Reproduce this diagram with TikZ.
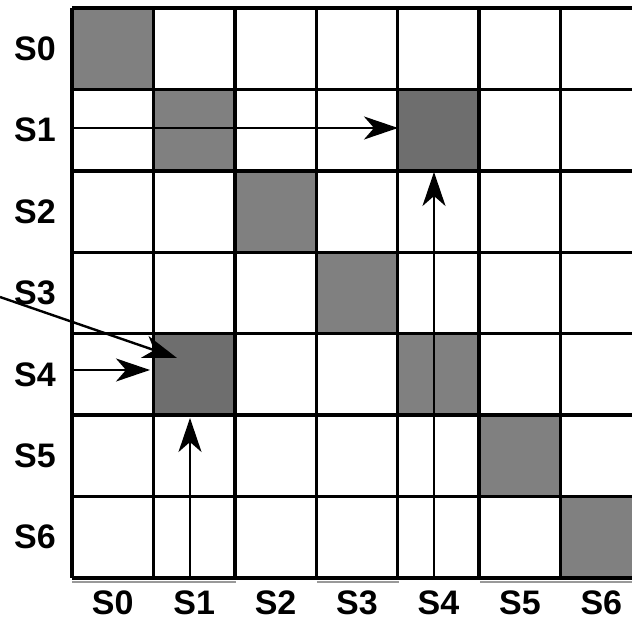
\documentclass[tikz,border=0pt]{standalone}
\usepackage{fontspec}
\setmainfont{Liberation Sans}
\usetikzlibrary{arrows.meta}
\tikzset{
  gridline/.style   = {line width=1.7pt},
  diagcell/.style   = {fill=black!50},
  hitcell/.style    = {fill=black!57},
  edgeshade/.style  = {line width=0.8pt, black!40},
  move/.style       = {line width=1.2pt, -{Stealth[length=17pt,width=11.5pt,inset=5pt]}},
  statelabel/.style = {font=\fontsize{17}{20}\selectfont\bfseries, inner sep=0.5pt},
}

\begin{document}
\begin{tikzpicture}[x=0.5pt,y=-0.5pt]
  \useasboundingbox (0,0) rectangle (632,619);
  \def\cs{81.43}

  % ---- shaded cells ------------------------------------------------------
  \foreach \i in {0,...,6}
    \fill[diagcell] ({72+\i*\cs},{8+\i*\cs}) rectangle ++(\cs,\cs);
  \fill[hitcell] ({72+4*\cs},{8+\cs}) rectangle ++(\cs,\cs);
  \fill[hitcell] ({72+\cs},{8+4*\cs}) rectangle ++(\cs,\cs);

  % ---- grid --------------------------------------------------------------
  \foreach \i in {0,...,7}
    \draw[gridline] (72,{8+\i*\cs}) -- (642,{8+\i*\cs});
  \foreach \j in {0,...,6}
    \draw[gridline] ({72+\j*\cs},8) -- ({72+\j*\cs},578);
  \draw[edgeshade] (72,582) -- (236,582);
  \draw[edgeshade] (317,582) -- (399,582);
  \draw[edgeshade] (480,582) -- (632,582);

  % ---- state labels ------------------------------------------------------
  \foreach \k in {0,...,6} {
    \node[statelabel] (r\k) at (35,{8+(\k+0.5)*\cs}) {S\k};
    \node[statelabel] (c\k) at ({72+(\k+0.5)*\cs},603) {S\k};
  }

  % ---- arrows into the two hit cells -------------------------------------
  \coordinate (rowS1) at (72,128);
  \coordinate (hitA)  at (398,128);
  \coordinate (colS4) at (434,578);
  \coordinate (hitAb) at (434,172);
  \coordinate (rowS4) at (72,370);
  \coordinate (hitB)  at (150,370);
  \coordinate (colS1) at (190,578);
  \coordinate (hitBb) at (190,418);
  \coordinate (outer) at (0,297);
  \coordinate (hitBd) at (177,358);

  \draw[move] (rowS1) -- (hitA);
  \draw[move] (colS4) -- (hitAb);
  \draw[move] (rowS4) -- (hitB);
  \draw[move] (colS1) -- (hitBb);
  \draw[move] (outer) -- (hitBd);
\end{tikzpicture}
\end{document}
